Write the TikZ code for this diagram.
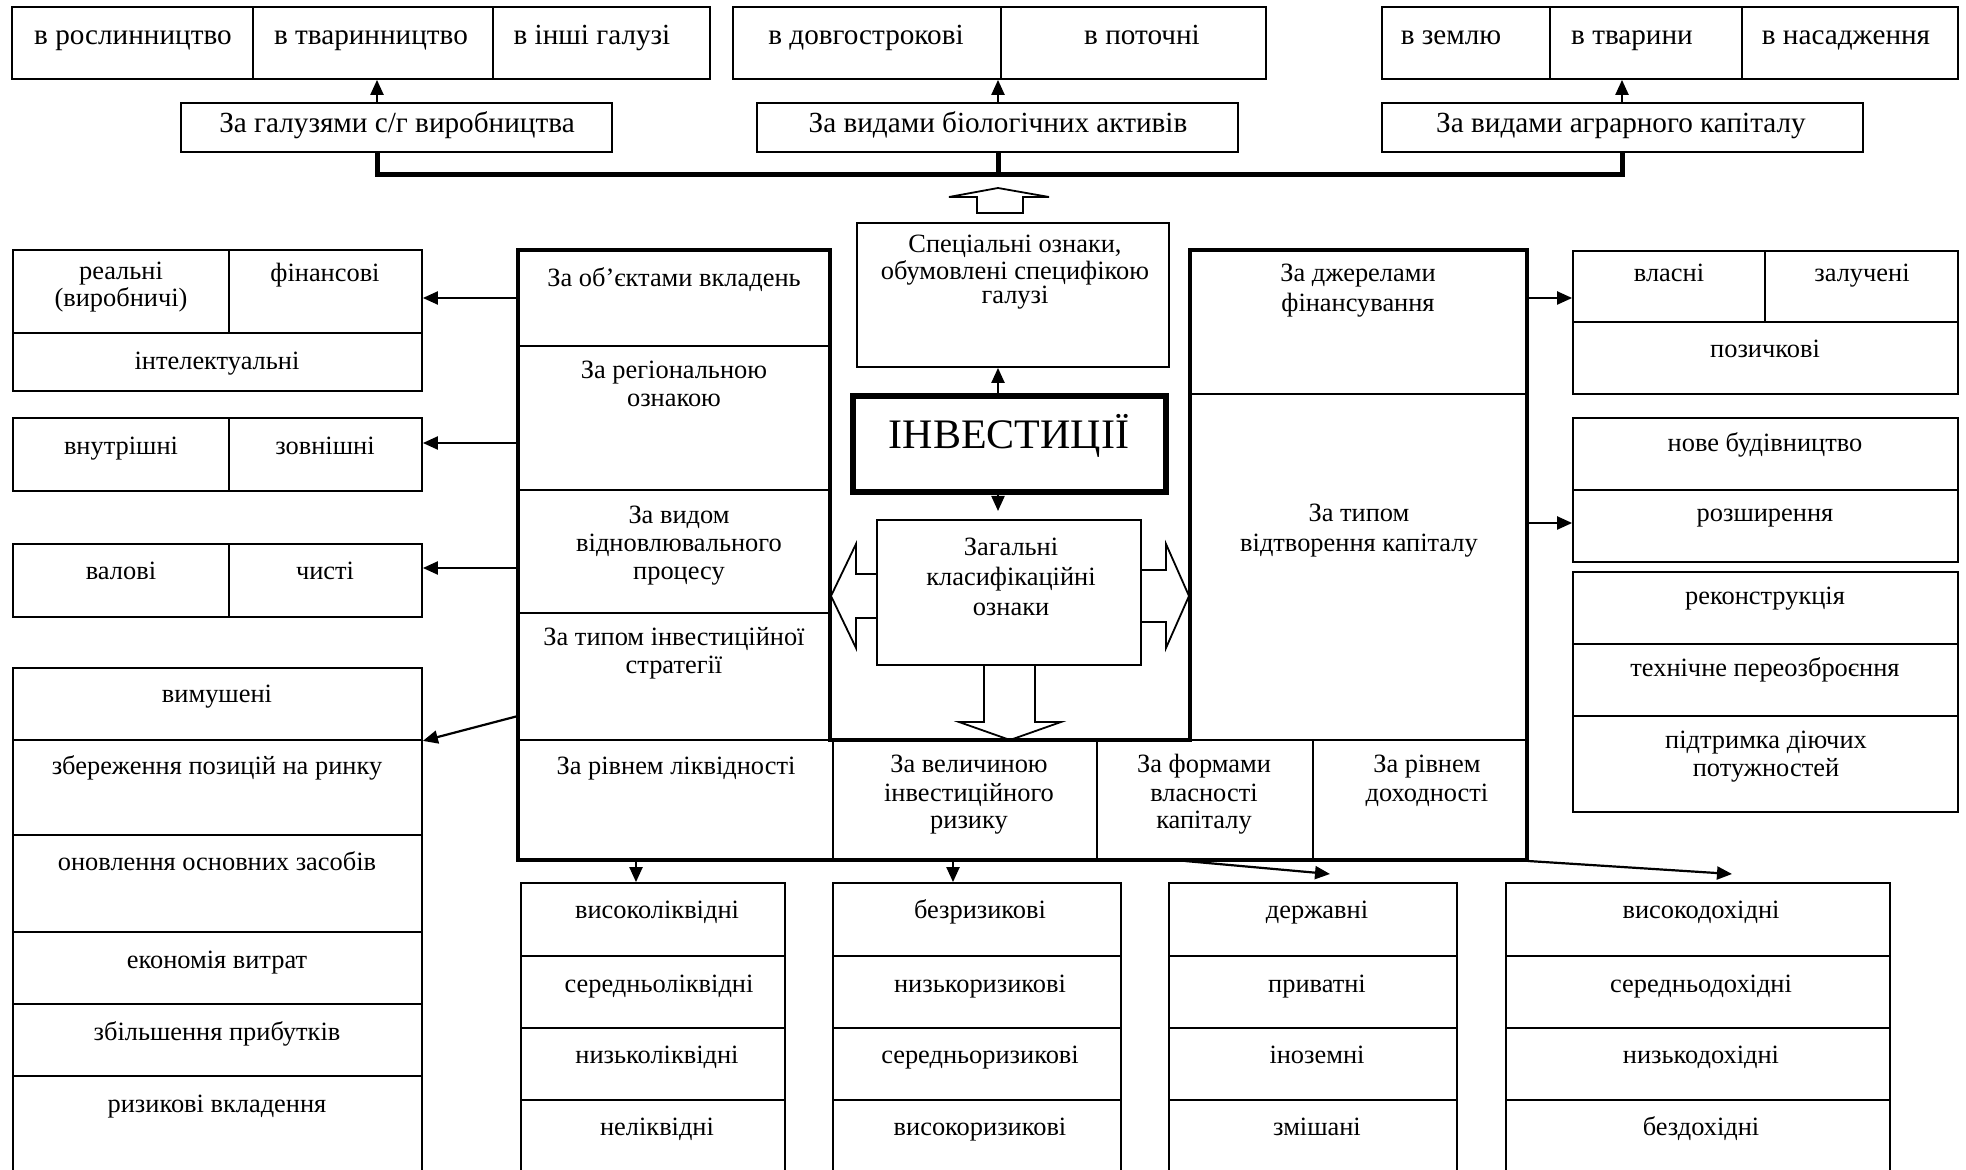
\documentclass[tikz,border=0pt]{standalone}
\usepackage{fontspec}
\setmainfont{Liberation Serif}
\usetikzlibrary{arrows.meta,fit}
\newcommand\fA{\fontsize{14.6}{14.6}\selectfont}
\newcommand\fB{\fontsize{13.2}{14}\selectfont}
\newcommand\ml[1]{\begin{tabular}[t]{@{}c@{}}#1\end{tabular}}
\begin{document}
\begin{tikzpicture}[x=0.5pt,y=-0.5pt,
  cell/.style={draw, line width=0.9pt, inner sep=0pt},
  thk/.style={line width=2.3pt, line join=miter},
  arr/.style={line width=1.1pt, -{Triangle[length=7.5pt,width=6.5pt]}},
  hol/.style={draw, line width=0.9pt, fill=white, line join=miter},
  tx/.style={anchor=base, inner sep=0pt, font=\fB},
  txa/.style={tx, font=\fA}]
\fill[white] (0,0) rectangle (1966,1170);
\useasboundingbox (0,0) rectangle (1966,1170);

% ---------- top row ----------
\node[cell, fit={(12,7)(253,79)}] (ta1) {};
\node[cell, fit={(253,7)(493,79)}] (ta2) {};
\node[cell, fit={(493,7)(710,79)}] (ta3) {};
\node[cell, fit={(733,7)(1001,79)}] (tb1) {};
\node[cell, fit={(1001,7)(1266,79)}] (tb2) {};
\node[cell, fit={(1382,7)(1550,79)}] (tc1) {};
\node[cell, fit={(1550,7)(1742,79)}] (tc2) {};
\node[cell, fit={(1742,7)(1958,79)}] (tc3) {};
\node[txa] (ta1t) at (133,45) {в рослинництво};
\node[txa] (ta2t) at (371,45) {в тваринництво};
\node[txa] (ta3t) at (592,45) {в інші галузі};
\node[txa] (tb1t) at (866,45) {в довгострокові};
\node[txa] (tb2t) at (1142,45) {в поточні};
\node[txa] (tc1t) at (1451,45) {в землю};
\node[txa] (tc2t) at (1632,45) {в тварини};
\node[txa] (tc3t) at (1846,45) {в насадження};

% ---------- second row ----------
\node[cell, fit={(181,103)(612,152)}] (sa) {};
\node[cell, fit={(757,103)(1238,152)}] (sb) {};
\node[cell, fit={(1382,103)(1863,152)}] (sc) {};
\node[txa] (sat) at (397,133) {За галузями с/г виробництва};
\node[txa] (sbt) at (998,133) {За видами біологічних активів};
\node[txa] (sct) at (1621,133) {За видами аграрного капіталу};

\coordinate (ua) at (377,103);
\coordinate (ub) at (998,103);
\coordinate (uc) at (1622,103);
\draw[arr] (ua) -- (ua |- ta2.south);
\draw[arr] (ub) -- (ub |- tb1.south);
\draw[arr] (uc) -- (uc |- tc2.south);
\draw[line width=2.5pt, line join=miter] (sa.south -| ua) -- ++(0,22) -| (sc.south -| uc);
\draw[line width=2.5pt] (sb.south -| ub) -- ++(0,22);

% hollow arrow up
\draw[hol] (977,213) -- (977,197) -- (949,197) -- (998,188) -- (1049,197) -- (1023,197) -- (1023,213) -- cycle;

% ---------- centre ----------
\node[cell, fit={(857,223)(1169,367)}] (spec) {};
\node[tx, font=\fontsize{13.2}{12}\selectfont] (spect) at (1015,253) {\ml{Спеціальні ознаки,\\обумовлені специфікою\\галузі}};

\node[draw, line width=2.6pt, inner sep=0pt, fit={(853,396)(1166,492)}] (inv) {};
\node[anchor=base, inner sep=0pt, font=\fontsize{21}{21}\selectfont] (invt) at (1009,449) {ІНВЕСТИЦІЇ};
\coordinate (m1) at (998,394);
\draw[arr] (m1) -- (m1 |- spec.south);
\coordinate (m2) at (998,494);
\coordinate (m3) at (998,511);
\draw[arr] (m2) -- (m3);

\draw[hol] (877,574) -- (856,574) -- (856,544) -- (831,596) -- (856,648) -- (856,618) -- (877,618);
\draw[hol] (1141,570) -- (1166,570) -- (1166,544) -- (1189,596) -- (1166,648) -- (1166,622) -- (1141,622);
\draw[hol] (984,665) -- (984,722) -- (959,722) -- (1010,740) -- (1061,722) -- (1035,722) -- (1035,665);

\node[cell, fit={(877,520)(1141,665)}] (gen) {};
\node[tx, font=\fontsize{13.2}{15}\selectfont] (gent) at (1011,556) {\ml{Загальні\\класифікаційні\\ознаки}};

% ---------- left panel ----------
\node[cell, fit={(518,250)(830,346)}] (lp1) {};
\node[cell, fit={(518,346)(830,490)}] (lp2) {};
\node[cell, fit={(518,490)(830,613)}] (lp3) {};
\node[cell, fit={(518,613)(830,740)}] (lp4) {};
\node[tx] (lp1t) at (674,287) {За об’єктами вкладень};
\node[tx] (lp2t) at (674,379) {\ml{За регіональною\\ознакою}};
\node[tx] (lp3t) at (679,524) {\ml{За видом\\відновлювального\\процесу}};
\node[tx] (lp4t) at (674,646) {\ml{За типом інвестиційної\\стратегії}};

% ---------- right panel ----------
\node[cell, fit={(1190,250)(1527,394)}] (rp1) {};
\node[cell, fit={(1190,394)(1527,740)}] (rp2) {};
\node[tx, font=\fontsize{13.2}{15}\selectfont] (rp1t) at (1358,282) {\ml{За джерелами\\фінансування}};
\node[tx, font=\fontsize{13.2}{15}\selectfont] (rp2t) at (1359,522) {\ml{За типом\\відтворення капіталу}};

% ---------- bottom row of the frame ----------
\node[cell, fit={(518,740)(833,860)}] (bq1) {};
\node[cell, fit={(833,740)(1097,860)}] (bq2) {};
\node[cell, fit={(1097,740)(1313,860)}] (bq3) {};
\node[cell, fit={(1313,740)(1527,860)}] (bq4) {};
\node[tx] (bq1t) at (676,775) {За рівнем ліквідності};
\node[tx] (bq2t) at (969,773) {\ml{За величиною\\інвестиційного\\ризику}};
\node[tx] (bq3t) at (1204,773) {\ml{За формами\\власності\\капіталу}};
\node[tx] (bq4t) at (1427,773) {\ml{За рівнем\\доходності}};

\draw[thk] (518,860) -- (518,250) -- (830,250) -- (830,740) -- (1190,740) -- (1190,250) -- (1527,250) -- (1527,860) -- cycle;

% ---------- left boxes ----------
\node[cell, fit={(13,250)(229,333)}] (l1a) {};
\node[cell, fit={(229,250)(422,333)}] (l1b) {};
\node[cell, fit={(13,333)(422,391)}] (l1c) {};
\node[tx, font=\fontsize{13.2}{12.5}\selectfont] (l1at) at (121,280) {\ml{реальні\\(виробничі)}};
\node[tx] (l1bt) at (325,282) {фінансові};
\node[tx] (l1ct) at (217,370) {інтелектуальні};

\node[cell, fit={(13,418)(229,491)}] (l2a) {};
\node[cell, fit={(229,418)(422,491)}] (l2b) {};
\node[tx] (l2at) at (121,455) {внутрішні};
\node[tx] (l2bt) at (325,455) {зовнішні};

\node[cell, fit={(13,544)(229,617)}] (l3a) {};
\node[cell, fit={(229,544)(422,617)}] (l3b) {};
\node[tx] (l3at) at (121,580) {валові};
\node[tx] (l3bt) at (325,580) {чисті};

\node[cell, fit={(13,668)(422,740)}] (l4a) {};
\node[cell, fit={(13,740)(422,835)}] (l4b) {};
\node[cell, fit={(13,835)(422,932)}] (l4c) {};
\node[cell, fit={(13,932)(422,1004)}] (l4d) {};
\node[cell, fit={(13,1004)(422,1076)}] (l4e) {};
\node[cell, fit={(13,1076)(422,1185)}] (l4f) {};
\node[tx] (l4at) at (217,703) {вимушені};
\node[tx] (l4bt) at (217,775) {збереження позицій на ринку};
\node[tx] (l4ct) at (217,870) {оновлення основних засобів};
\node[tx] (l4dt) at (217,968) {економія витрат};
\node[tx] (l4et) at (217,1040) {збільшення прибутків};
\node[tx] (l4ft) at (217,1112) {ризикові вкладення};

\draw[arr] (lp1.west) -- (lp1.west -| l1b.east);
\coordinate (al2) at (518,443);
\draw[arr] (al2) -- (al2 -| l2b.east);
\coordinate (al3) at (518,568);
\draw[arr] (al3) -- (al3 -| l3b.east);
\coordinate (al4) at (518,716);
\draw[arr] (al4) -- (l4a.south east);

% ---------- right boxes ----------
\node[cell, fit={(1573,251)(1765,322)}] (r1a) {};
\node[cell, fit={(1765,251)(1958,322)}] (r1b) {};
\node[cell, fit={(1573,322)(1958,394)}] (r1c) {};
\node[tx] (r1at) at (1669,282) {власні};
\node[tx] (r1bt) at (1862,282) {залучені};
\node[tx] (r1ct) at (1765,358) {позичкові};

\node[cell, fit={(1573,418)(1958,490)}] (r2a) {};
\node[cell, fit={(1573,490)(1958,562)}] (r2b) {};
\node[tx] (r2at) at (1765,452) {нове будівництво};
\node[tx] (r2bt) at (1765,522) {розширення};

\node[cell, fit={(1573,572)(1958,644)}] (r3a) {};
\node[cell, fit={(1573,644)(1958,716)}] (r3b) {};
\node[cell, fit={(1573,716)(1958,812)}] (r3c) {};
\node[tx] (r3at) at (1765,605) {реконструкція};
\node[tx] (r3bt) at (1765,677) {технічне переозброєння};
\node[tx] (r3ct) at (1766,748) {\ml{підтримка діючих\\потужностей}};

\coordinate (ar1) at (1527,298);
\draw[arr] (ar1) -- (ar1 -| r1a.west);
\coordinate (ar2) at (1527,523);
\draw[arr] (ar2) -- (ar2 -| r2a.west);

% ---------- bottom lists ----------
\node[cell, fit={(521,883)(785,956)}] (b1a) {};
\node[cell, fit={(521,956)(785,1028)}] (b1b) {};
\node[cell, fit={(521,1028)(785,1100)}] (b1c) {};
\node[cell, fit={(521,1100)(785,1185)}] (b1d) {};
\node[tx] (b1at) at (657,918) {високоліквідні};
\node[tx] (b1bt) at (659,992) {середньоліквідні};
\node[tx] (b1ct) at (657,1063) {низьколіквідні};
\node[tx] (b1dt) at (657,1135) {неліквідні};

\node[cell, fit={(833,883)(1121,956)}] (b2a) {};
\node[cell, fit={(833,956)(1121,1028)}] (b2b) {};
\node[cell, fit={(833,1028)(1121,1100)}] (b2c) {};
\node[cell, fit={(833,1100)(1121,1185)}] (b2d) {};
\node[tx] (b2at) at (980,918) {безризикові};
\node[tx] (b2bt) at (980,992) {низькоризикові};
\node[tx] (b2ct) at (980,1063) {середньоризикові};
\node[tx] (b2dt) at (980,1135) {високоризикові};

\node[cell, fit={(1169,883)(1457,956)}] (b3a) {};
\node[cell, fit={(1169,956)(1457,1028)}] (b3b) {};
\node[cell, fit={(1169,1028)(1457,1100)}] (b3c) {};
\node[cell, fit={(1169,1100)(1457,1185)}] (b3d) {};
\node[tx] (b3at) at (1317,918) {державні};
\node[tx] (b3bt) at (1317,992) {приватні};
\node[tx] (b3ct) at (1317,1063) {іноземні};
\node[tx] (b3dt) at (1317,1135) {змішані};

\node[cell, fit={(1506,883)(1890,956)}] (b4a) {};
\node[cell, fit={(1506,956)(1890,1028)}] (b4b) {};
\node[cell, fit={(1506,1028)(1890,1100)}] (b4c) {};
\node[cell, fit={(1506,1100)(1890,1185)}] (b4d) {};
\node[tx] (b4at) at (1701,918) {високодохідні};
\node[tx] (b4bt) at (1701,992) {середньодохідні};
\node[tx] (b4ct) at (1701,1063) {низькодохідні};
\node[tx] (b4dt) at (1701,1135) {бездохідні};

\coordinate (ab1) at (636,861);
\draw[arr] (ab1) -- (ab1 |- b1a.north);
\coordinate (ab2) at (953,861);
\draw[arr] (ab2) -- (ab2 |- b2a.north);
\coordinate (ab3) at (1185,861);
\coordinate (ae3) at (1330,874);
\draw[arr] (ab3) -- (ae3);
\coordinate (ab4) at (1528,861);
\coordinate (ae4) at (1732,874);
\draw[arr] (ab4) -- (ae4);
\end{tikzpicture}
\end{document}
